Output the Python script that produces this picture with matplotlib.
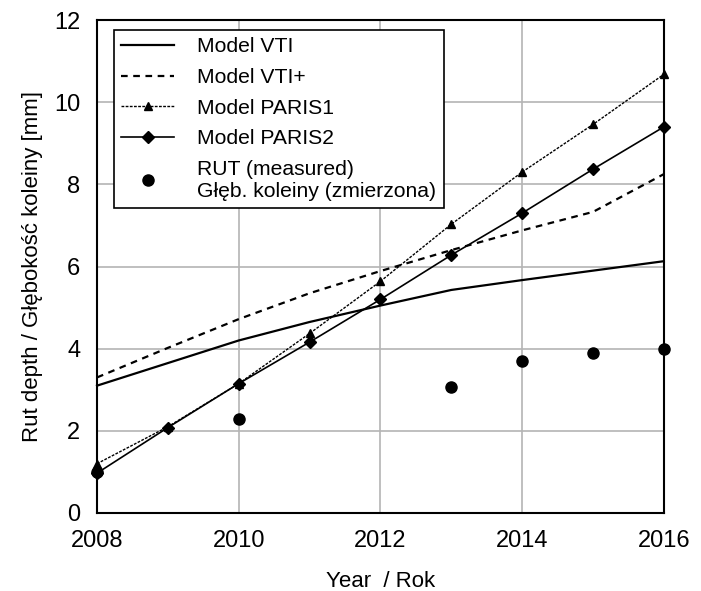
#!/usr/bin/env python3

import matplotlib.pyplot as plt

plt.rcParams['font.family'] = ['Liberation Sans', 'DejaVu Sans']

# Data
years = [2008, 2009, 2010, 2011, 2012, 2013, 2014, 2015, 2016]
vti = [3.1, 3.65, 4.2, 4.65, 5.05, 5.43, 5.67, 5.9, 6.13]
vti_plus = [3.3, 4.02, 4.72, 5.35, 5.89, 6.4, 6.88, 7.33, 8.25]
paris1 = [1.2, 2.1, 3.15, 4.37, 5.64, 7.03, 8.3, 9.46, 10.68]
paris2 = [0.97, 2.08, 3.15, 4.16, 5.2, 6.28, 7.3, 8.37, 9.4]

meas_years = [2008, 2010, 2013, 2014, 2015, 2016]
measured = [1.0, 2.29, 3.07, 3.7, 3.9, 4.0]

x_label = 'Year  / Rok'
y_label = 'Rut depth / Głębokość koleiny [mm]'

# Plotting
fig = plt.figure(figsize=(7.01, 5.91), dpi=100)
ax = fig.add_axes([0.1384, 0.132, 0.8086, 0.834])

ax.plot(years, vti, color='black', lw=1.6, label='Model VTI')
ax.plot(years, vti_plus, color='black', lw=1.6, linestyle=(0, (3, 2.5)),
        label='Model VTI+')
ax.plot(years, paris1, color='black', lw=1.0, linestyle=(0, (2, 1)),
        marker='^', markersize=6, label='Model PARIS1')
ax.plot(years, paris2, color='black', lw=1.2, marker='D', markersize=6,
        label='Model PARIS2')
ax.plot(meas_years, measured, linestyle='none', color='black', marker='o',
        markersize=8, label='RUT (measured)\nGłęb. koleiny (zmierzona)')

ax.set_xlim(2008, 2016)
ax.set_ylim(0, 12)
ax.set_xticks([2008, 2010, 2012, 2014, 2016])
ax.set_yticks(range(0, 13, 2))
ax.tick_params(length=0, labelsize=17, pad=12)
ax.grid(True, color='#b4b4b4', lw=1.2)
ax.set_axisbelow(True)
for s in ax.spines.values():
    s.set_linewidth(1.5)
    s.set_clip_on(False)

ax.set_xlabel(x_label, fontsize=16, labelpad=14)
ax.set_ylabel(y_label, fontsize=16, labelpad=8)

for line in ax.lines:
    line.set_clip_on(False)

leg = ax.legend(loc='upper left', bbox_to_anchor=(0.03, 0.98), fontsize=15.2,
                fancybox=False, edgecolor='black', framealpha=1,
                handlelength=2.5, handletextpad=1.1, labelspacing=0.55,
                borderaxespad=0, borderpad=0.35)
leg.get_frame().set_linewidth(1.2)

plt.savefig('out.png', dpi=100)
